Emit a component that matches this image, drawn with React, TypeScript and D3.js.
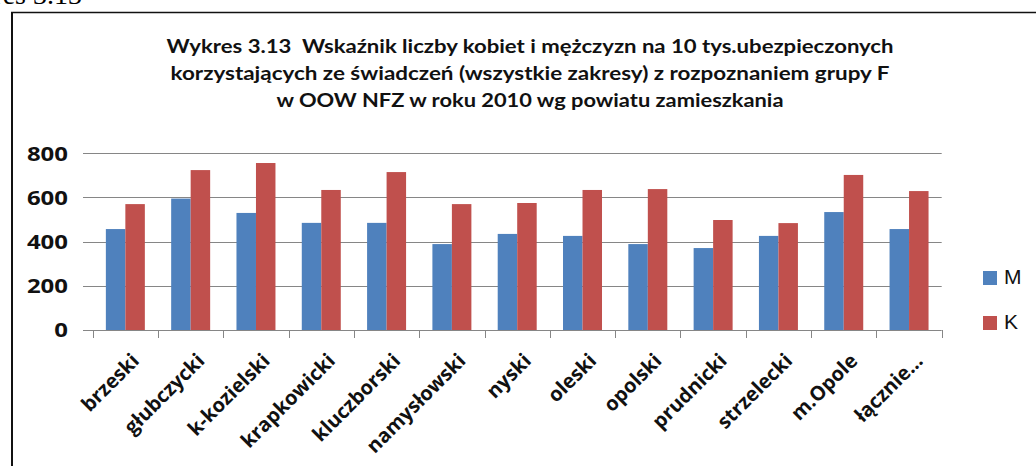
import React, { useEffect, useRef } from "react";
import * as d3 from "d3";

const categories = [
  "brzeski",
  "głubczycki",
  "k-kozielski",
  "krapkowicki",
  "kluczborski",
  "namysłowski",
  "nyski",
  "oleski",
  "opolski",
  "prudnicki",
  "strzelecki",
  "m.Opole",
  "łącznie…",
];
const seriesM = [457, 595, 530, 485, 485, 389, 435, 426, 389, 371, 426, 534, 457];
const seriesK = [570, 724, 756, 634, 715, 570, 575, 634, 638, 498, 484, 702, 629];
const yTicks = [0, 200, 400, 600, 800];
const titleLines = [
  "Wykres 3.13  Wskaźnik liczby kobiet i mężczyzn na 10 tys.ubezpieczonych",
  "korzystających ze świadczeń (wszystkie zakresy) z rozpoznaniem grupy F",
  "w OOW NFZ w roku 2010 wg powiatu zamieszkania",
];
const seriesNames = ["M", "K"];

const App: React.FC = () => {
  const svgRef = useRef<SVGSVGElement>(null);

  useEffect(() => {
    document.body.style.margin = "0";
    const width = 1036;
    const height = 466;
    const svg = d3.select(svgRef.current).attr("width", width).attr("height", height);
    svg.selectAll("*").remove();

    const color = d3.scaleOrdinal<string>().domain(seriesNames).range(["#4F81BD", "#C0504D"]);

    // caption of the page, cut at the top edge like in the scan
    svg
      .append("text")
      .attr("x", 82)
      .attr("y", 4)
      .attr("text-anchor", "end")
      .style("font-family", "'Liberation Serif', serif")
      .style("font-size", "28px")
      .text("Wykres 3.13");

    // frame
    svg.append("line").attr("x1", 12).attr("x2", 12).attr("y1", 12).attr("y2", height).attr("stroke", "#111").attr("stroke-width", 2);
    svg.append("line").attr("x1", 11).attr("x2", width).attr("y1", 12.5).attr("y2", 12.5).attr("stroke", "#111").attr("stroke-width", 1.5);

    // title
    const titleY = [53, 80, 107];
    const titleLen = [727, 719, 507];
    svg
      .append("g")
      .selectAll("text")
      .data(titleLines)
      .enter()
      .append("text")
      .attr("x", 530)
      .attr("y", (d, i) => titleY[i])
      .attr("text-anchor", "middle")
      .attr("textLength", (d, i) => titleLen[i])
      .attr("lengthAdjust", "spacingAndGlyphs")
      .style("white-space", "pre")
      .style("font-family", "Lato, 'Open Sans', sans-serif")
      .style("font-weight", "bold")
      .style("font-size", "19px")
      .style("fill", "#111")
      .text(d => d);

    const x0 = d3.scaleBand<string>().domain(categories).range([92.7, 941.7]).paddingInner(0).paddingOuter(0);
    const x1 = d3.scaleBand<string>().domain(seriesNames).range([0, x0.bandwidth()]).paddingInner(0).paddingOuter(0.675);
    const y = d3.scaleLinear().domain([0, 800]).range([330, 153.3]);

    // gridlines
    svg
      .append("g")
      .selectAll("line")
      .data(yTicks)
      .enter()
      .append("line")
      .attr("x1", 83)
      .attr("x2", 941.7)
      .attr("y1", d => Math.round(y(d)) + 0.5)
      .attr("y2", d => Math.round(y(d)) + 0.5)
      .attr("stroke", "#868686")
      .attr("stroke-width", 1);

    // y labels
    svg
      .append("g")
      .selectAll("text")
      .data(yTicks)
      .enter()
      .append("text")
      .attr("x", 68)
      .attr("y", d => y(d))
      .attr("dy", "0.36em")
      .attr("text-anchor", "end")
      .attr("textLength", d => String(d).length * 13.7)
      .attr("lengthAdjust", "spacingAndGlyphs")
      .style("font-family", "'Open Sans', sans-serif")
      .style("font-weight", "bold")
      .style("font-size", "20px")
      .style("fill", "#111")
      .text(d => d);

    // bars
    const rows = categories.map((c, i) => ({ cat: c, values: [seriesM[i], seriesK[i]] }));
    const groups = svg
      .append("g")
      .selectAll("g")
      .data(rows)
      .enter()
      .append("g")
      .attr("transform", d => `translate(${x0(d.cat)},0)`);

    groups
      .selectAll("rect")
      .data(d => d.values.map((v, j) => ({ key: seriesNames[j], value: v })))
      .enter()
      .append("rect")
      .attr("x", d => x1(d.key)!)
      .attr("width", x1.bandwidth())
      .attr("y", d => y(d.value))
      .attr("height", d => y(0) - y(d.value))
      .attr("fill", d => color(d.key));

    // x axis ticks
    const tickXs = categories.map(c => x0(c)!).concat([941.7]);
    svg
      .append("g")
      .selectAll("line")
      .data(tickXs)
      .enter()
      .append("line")
      .attr("x1", d => Math.round(d) + 0.5)
      .attr("x2", d => Math.round(d) + 0.5)
      .attr("y1", 330)
      .attr("y2", 338)
      .attr("stroke", "#868686");

    // x labels, rotated 45 degrees
    svg
      .append("g")
      .selectAll("text")
      .data(categories)
      .enter()
      .append("text")
      .attr("transform", d => `translate(${x0(d)! + x0.bandwidth() / 2 + 5},352) rotate(-45)`)
      .attr("dy", "0.71em")
      .attr("text-anchor", "end")
      .style("font-family", "'Open Sans', sans-serif")
      .style("font-weight", "bold")
      .style("font-size", "20px")
      .style("fill", "#111")
      .text(d => d);

    // legend
    const legend = svg
      .append("g")
      .selectAll("g")
      .data(seriesNames)
      .enter()
      .append("g")
      .attr("transform", (d, i) => `translate(983,${271 + i * 45})`);

    legend.append("rect").attr("width", 14).attr("height", 14).attr("fill", d => color(d));
    legend
      .append("text")
      .attr("x", 21)
      .attr("y", 13)
      .style("font-family", "'Liberation Sans', sans-serif")
      .style("font-size", "21px")
      .style("fill", "#111")
      .text(d => d);
  }, []);

  return (
    <div>
      <svg ref={svgRef}></svg>
    </div>
  );
};

export default App;
